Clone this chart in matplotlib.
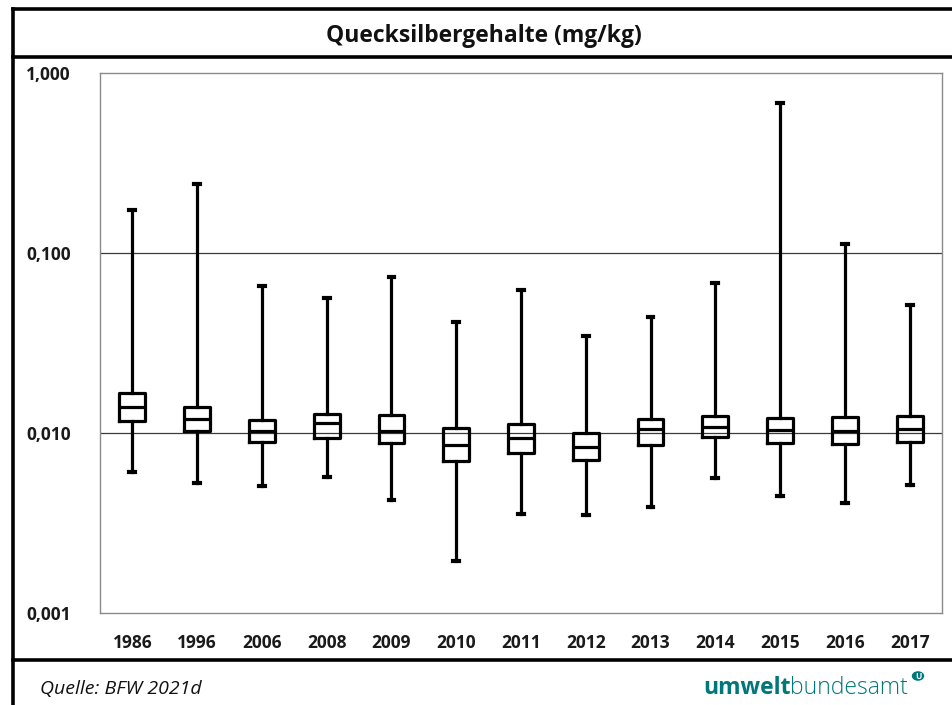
import matplotlib
matplotlib.use("Agg")
import matplotlib.pyplot as plt
from matplotlib.lines import Line2D
from matplotlib.patches import Circle
from matplotlib.ticker import FixedLocator, NullLocator

years = ["1986", "1996", "2006", "2008", "2009", "2010", "2011",
         "2012", "2013", "2014", "2015", "2016", "2017"]
whisker_low = [0.0061, 0.00526, 0.00506, 0.00567, 0.00426, 0.00195, 0.00353,
               0.00349, 0.00387, 0.00560, 0.00447, 0.00410, 0.00512]
q1 = [0.01166, 0.01030, 0.00895, 0.00938, 0.00877, 0.00702, 0.00771,
      0.00708, 0.00858, 0.00947, 0.00883, 0.00869, 0.00895]
median = [0.0139, 0.01191, 0.01026, 0.01132, 0.01030, 0.00858, 0.00935,
          0.00840, 0.01049, 0.01076, 0.01040, 0.01030, 0.01057]
q3 = [0.01663, 0.01400, 0.01181, 0.01280, 0.01254, 0.01062, 0.01117,
      0.01004, 0.01196, 0.01248, 0.01217, 0.01233, 0.01248]
whisker_high = [0.173, 0.2416, 0.0653, 0.0565, 0.0733, 0.0415, 0.0623,
                0.0346, 0.0441, 0.0679, 0.679, 0.1118, 0.0514]
ytick_vals = [0.001, 0.01, 0.1, 1.0]
ytick_labels = ["0,001", "0,010", "0,100", "1,000"]
title = "Quecksilbergehalte (mg/kg)"
source = "Quelle: BFW 2021d"

plt.rcParams['font.family'] = ['Open Sans', 'DejaVu Sans']
W, H = 953, 705
fig = plt.figure(figsize=(W / 100, H / 100), dpi=100)
ax = fig.add_axes([100 / W, 1 - 613 / H, 842 / W, 540 / H])

stats = []
for i in range(len(years)):
    stats.append(dict(label=years[i], whislo=whisker_low[i], q1=q1[i],
                      med=median[i], q3=q3[i], whishi=whisker_high[i],
                      fliers=[]))

lw = 2.3
ax.bxp(stats, positions=range(len(years)), widths=0.4, capwidths=0.09,
       showfliers=False, patch_artist=False,
       boxprops=dict(color='black', linewidth=lw),
       medianprops=dict(color='black', linewidth=lw),
       whiskerprops=dict(color='black', linewidth=lw),
       capprops=dict(color='black', linewidth=3.0))

ax.set_yscale('log')
ax.set_ylim(0.001, 1.0)
ax.set_xlim(-0.5, len(years) - 0.5)
ax.yaxis.set_major_locator(FixedLocator(ytick_vals))
ax.set_yticklabels(ytick_labels)
ax.yaxis.set_minor_locator(NullLocator())
ax.set_xticks(range(len(years)))
ax.set_xticklabels(years)
for y in [0.01, 0.1]:
    ax.axhline(y, color='#3a3a3a', linewidth=0.9, zorder=0)
ax.tick_params(axis='both', length=0, labelsize=12.5, colors='#1a1a1a')
ax.tick_params(axis='y', pad=21)
ax.tick_params(axis='x', pad=15)
for lab in ax.get_xticklabels() + ax.get_yticklabels():
    lab.set_fontweight('bold')
for sp in ax.spines.values():
    sp.set_color('#8a8a8a')
    sp.set_linewidth(1.0)

# frame lines
def hline(ypix, x0=13, x1=W, lwid=2.6):
    fig.add_artist(Line2D([x0 / W, x1 / W], [1 - ypix / H, 1 - ypix / H],
                          color='black', linewidth=lwid))
hline(9)
hline(57)
hline(660)
fig.add_artist(Line2D([13 / W, 13 / W], [1 - 9 / H, 0], color='black', linewidth=2.6))

fig.text(484 / W, 1 - 36 / H, title, ha='center', va='center',
         fontsize=16.5, fontweight='bold', color='#111111')
fig.text(40 / W, 1 - 689 / H, source, ha='left', va='center',
         fontsize=14, style='italic', color='#111111')

teal = '#00777a'
t1 = fig.text(703 / W, 1 - 688 / H, "umwelt", ha='left', va='center',
              fontsize=16.5, fontweight='bold', color=teal)
fig.canvas.draw()
bb = t1.get_window_extent()
fig.text(bb.x1 / W, 1 - 688 / H, "bundesamt", ha='left', va='center',
         fontsize=16.5, fontweight='light', color=teal)
fig.add_artist(Circle((918 / W, 1 - 676 / H), 5.5 / W, transform=fig.transFigure,
                      color=teal))
fig.text(918 / W, 1 - 676.5 / H, "U", ha='center', va='center', fontsize=6,
         fontweight='bold', color='white')

fig.savefig("out.png", dpi=100)
